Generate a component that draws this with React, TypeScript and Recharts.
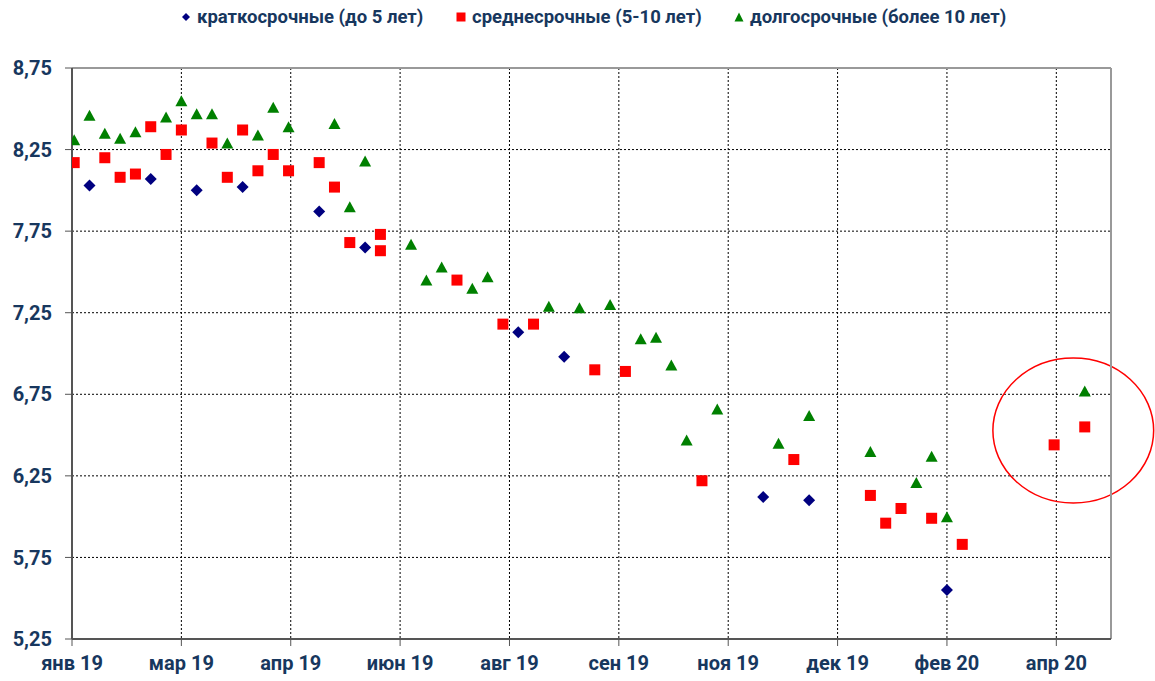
import { CartesianGrid, ReferenceArea, ReferenceLine, Scatter, ScatterChart, XAxis, YAxis } from "recharts";

// days since axis start (weekly auctions)
const X_TICKS = [0, 50, 100, 150, 200, 250, 300, 350, 400, 450];
const X_TICK_LABELS = ["янв 19", "мар 19", "апр 19", "июн 19", "авг 19", "сен 19", "ноя 19", "дек 19", "фев 20", "апр 20"];
const Y_TICKS = [5.25, 5.75, 6.25, 6.75, 7.25, 7.75, 8.25, 8.75];

const SHORT_DAYS = [8, 36, 57, 78, 113, 134, 204, 225, 316, 337, 400];
const SHORT_RATES = [8.03, 8.07, 8.0, 8.02, 7.87, 7.65, 7.13, 6.98, 6.12, 6.1, 5.55];

const MEDIUM_DAYS = [
  1, 15, 22, 29, 36, 43, 50, 64, 71, 78, 85, 92, 99, 113, 120, 127, 141, 141, 176, 197, 211, 239, 253, 288, 330,
  365, 372, 379, 393, 407, 449, 463,
];
const MEDIUM_RATES = [
  8.17, 8.2, 8.08, 8.1, 8.39, 8.22, 8.37, 8.29, 8.08, 8.37, 8.12, 8.22, 8.12, 8.17, 8.02, 7.68, 7.73, 7.63, 7.45,
  7.18, 7.18, 6.9, 6.89, 6.22, 6.35, 6.13, 5.96, 6.05, 5.99, 5.83, 6.44, 6.55,
];

const LONG_DAYS = [
  1, 8, 15, 22, 29, 43, 50, 57, 64, 71, 85, 92, 99, 120, 127, 134, 155, 162, 169, 183, 190, 218, 232, 246, 260, 267,
  274, 281, 295, 323, 337, 365, 386, 393, 400, 463,
];
const LONG_RATES = [
  8.31, 8.46, 8.35, 8.32, 8.36, 8.45, 8.55, 8.47, 8.47, 8.29, 8.34, 8.51, 8.39, 8.41, 7.9, 8.18, 7.67, 7.45, 7.53,
  7.4, 7.47, 7.29, 7.28, 7.3, 7.09, 7.1, 6.93, 6.47, 6.66, 6.45, 6.62, 6.4, 6.21, 6.37, 6.0, 6.77,
];

const COLORS = { short: "#000080", medium: "#FF0000", long: "#008000", text: "#17375E" };
const FONT = "Roboto, 'Noto Sans', sans-serif";

const toPoints = (xs: number[], ys: number[]) => xs.map((x, i) => ({ x, y: ys[i] }));

function Diamond({ cx, cy, r = 6, fill }: { cx?: number; cy?: number; r?: number; fill: string }) {
  if (cx == null || cy == null) return null;
  return <path d={`M${cx},${cy - r}L${cx + r},${cy}L${cx},${cy + r}L${cx - r},${cy}Z`} fill={fill} />;
}

function Square({ cx, cy, s = 11, fill }: { cx?: number; cy?: number; s?: number; fill: string }) {
  if (cx == null || cy == null) return null;
  return <rect x={cx - s / 2} y={cy - s / 2} width={s} height={s} fill={fill} />;
}

function Triangle({ cx, cy, w = 12, h = 11, fill }: { cx?: number; cy?: number; w?: number; h?: number; fill: string }) {
  if (cx == null || cy == null) return null;
  return <path d={`M${cx},${cy - h / 2}L${cx + w / 2},${cy + h / 2}L${cx - w / 2},${cy + h / 2}Z`} fill={fill} />;
}

function Ellipse(props: { x?: number; y?: number; width?: number; height?: number }) {
  const { x = 0, y = 0, width = 0, height = 0 } = props;
  return (
    <ellipse
      cx={x + width / 2}
      cy={y + height / 2}
      rx={Math.abs(width) / 2}
      ry={Math.abs(height) / 2}
      fill="none"
      stroke="#FF0000"
      strokeWidth={1.5}
    />
  );
}

function LegendItem({ left, label, marker }: { left: number; label: string; marker: React.ReactNode }) {
  return (
    <div style={{ position: "absolute", left, top: 6, display: "flex", alignItems: "center", gap: 6 }}>
      <svg width={10} height={10}>{marker}</svg>
      <span>{label}</span>
    </div>
  );
}

export default function App() {
  const tickStyle = { fill: COLORS.text, fontSize: 20, fontWeight: 700, fontFamily: FONT };
  return (
    <div style={{ position: "absolute", left: 0, top: 0, width: 1155, height: 681, background: "#fff" }}>
      <div style={{ fontFamily: FONT, fontWeight: 700, fontSize: 18.5, color: COLORS.text }}>
        <LegendItem left={181} label="краткосрочные (до 5 лет)" marker={<Diamond cx={5} cy={5} r={4} fill={COLORS.short} />} />
        <LegendItem left={456} label="среднесрочные (5-10 лет)" marker={<Square cx={5} cy={5} s={9} fill={COLORS.medium} />} />
        <LegendItem left={734} label="долгосрочные (более 10 лет)" marker={<Triangle cx={5} cy={5} w={9} h={9} fill={COLORS.long} />} />
      </div>
      <ScatterChart width={1155} height={681} margin={{ top: 68, right: 44, bottom: 0, left: 0 }} style={{ overflow: "visible" }}>
        <CartesianGrid stroke="#000" strokeDasharray="2 2" strokeWidth={1} />
        <XAxis
          type="number"
          dataKey="x"
          domain={[0, 475]}
          ticks={X_TICKS}
          interval={0}
          tickFormatter={(v: number) => X_TICK_LABELS[X_TICKS.indexOf(v)]}
          height={42}
          tickSize={7}
          tickMargin={10}
          tick={tickStyle}
          axisLine={{ stroke: "#555", strokeWidth: 2 }}
          tickLine={{ stroke: "#555" }}
          allowDataOverflow
        />
        <YAxis
          type="number"
          dataKey="y"
          domain={[5.25, 8.75]}
          ticks={Y_TICKS}
          interval={0}
          tickFormatter={(v: number) => v.toFixed(2).replace(".", ",")}
          width={72}
          tickSize={7}
          tickMargin={13}
          tick={tickStyle}
          axisLine={{ stroke: "#555", strokeWidth: 2 }}
          tickLine={{ stroke: "#555" }}
          allowDataOverflow
        />
        <ReferenceLine y={8.75} stroke="#999" strokeWidth={2} />
        <ReferenceLine x={475} stroke="#999" strokeWidth={2} />
        <Scatter
          name="краткосрочные (до 5 лет)"
          data={toPoints(SHORT_DAYS, SHORT_RATES)}
          isAnimationActive={false}
          shape={(p: any) => <Diamond cx={p.cx} cy={p.cy} fill={COLORS.short} />}
        />
        <Scatter
          name="среднесрочные (5-10 лет)"
          data={toPoints(MEDIUM_DAYS, MEDIUM_RATES)}
          isAnimationActive={false}
          shape={(p: any) => <Square cx={p.cx} cy={p.cy} fill={COLORS.medium} />}
        />
        <Scatter
          name="долгосрочные (более 10 лет)"
          data={toPoints(LONG_DAYS, LONG_RATES)}
          isAnimationActive={false}
          shape={(p: any) => <Triangle cx={p.cx} cy={p.cy} fill={COLORS.long} />}
        />
        <ReferenceArea x1={421} x2={494.5} y1={6.084} y2={6.972} ifOverflow="visible" shape={<Ellipse />} />
      </ScatterChart>
    </div>
  );
}
